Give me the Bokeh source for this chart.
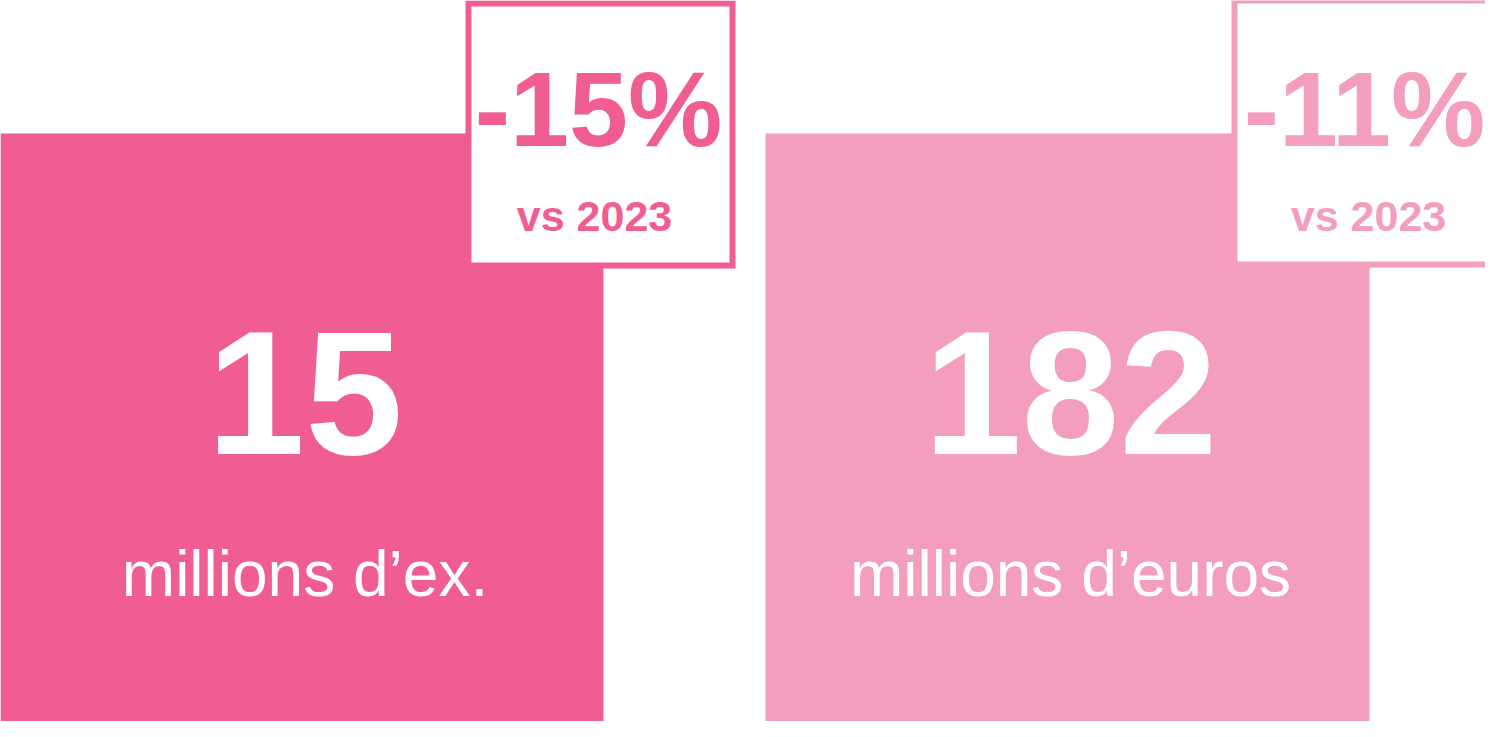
from bokeh.plotting import figure
from bokeh.models import Range1d, ColumnDataSource
from bokeh.core.properties import value
from bokeh.embed import file_html
from bokeh.resources import INLINE

# Data
values = ["15", "182"]
units = ["millions d’ex.", "millions d’euros"]
changes = ["-15%", "-11%"]
compare = ["vs 2023", "vs 2023"]
colors = ["#EF5D93", "#F39DBF"]

W, H = 1485, 721
p = figure(width=W, height=H, output_backend="svg", toolbar_location=None,
           x_range=Range1d(0, W), y_range=Range1d(H, 0),
           min_border=0, outline_line_color=None)
p.axis.visible = False
p.grid.visible = False
p.background_fill_color = "white"
p.border_fill_color = "white"

# big panels (screen-pixel coordinates)
panel_left = [0, 765]
panel_right = [603, 1369]
p.quad(left=panel_left, right=panel_right, top=[133, 133], bottom=[740, 740],
       fill_color=colors, line_color=None)

# small framed boxes
box_left = [468, 1234]
box_right = [732, 1498]
box_top = [3, 0]
box_bottom = [265, 264]
p.quad(left=box_left, right=box_right, top=box_top, bottom=box_bottom,
       fill_color="white", line_color=colors, line_width=6, line_join="miter")

font = value("Liberation Sans")
cx_panel = [(a + b) / 2 + 3 for a, b in zip(panel_left, panel_right)]
cx_box = [(a + b) / 2 - 2 for a, b in zip(box_left, box_right)]
cx_vs = [cx_box[0] - 4, cx_box[1] + 4]

src = ColumnDataSource(dict(v=values, u=units, c=changes, vs=compare,
                            col=colors, xp=cx_panel, xb=cx_box, xv=cx_vs))

p.text(x="xp", y=392, text="v", source=src, text_font=font,
       text_font_style="bold", text_font_size="176px", text_color="white",
       text_align="center", text_baseline="alphabetic")
p.text(x="xp", y=573, text="u", source=src, text_font=font,
       text_font_size="64px", text_color="white",
       text_align="center", text_baseline="alphabetic")
p.text(x="xb", y=108, text="c", source=src, text_font=font,
       text_font_style="bold", text_font_size="106px", text_color="col",
       text_align="center", text_baseline="alphabetic")
p.text(x="xv", y=215, text="vs", source=src, text_font=font,
       text_font_style="bold", text_font_size="43px", text_color="col",
       text_align="center", text_baseline="alphabetic")

open("out.html", "w").write(file_html(p, INLINE))
